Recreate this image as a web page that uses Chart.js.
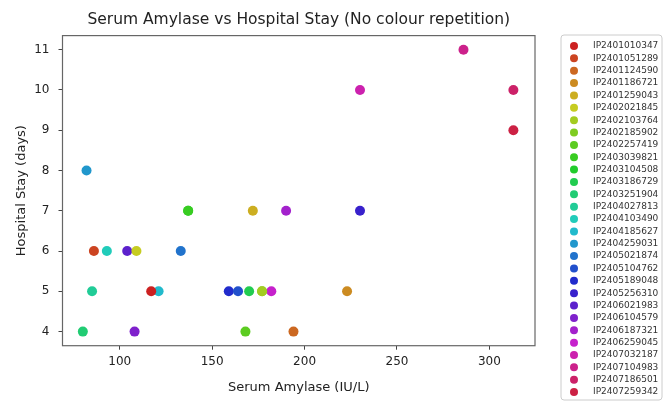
<!DOCTYPE html>
<html>
<head>
    <title>Serum Amylase vs Hospital Stay</title>
    <script src="https://cdn.jsdelivr.net/npm/chart.js"></script>
    <style>
        body { margin: 0; background: #fff; }
    </style>
</head>
<body>
    <canvas id="myChart" width="666" height="403"></canvas>
    <script>
        // one point per patient
        const patientIds = [
            'IP2401010347', 'IP2401051289', 'IP2401124590', 'IP2401186721', 'IP2401259043',
            'IP2402021845', 'IP2402103764', 'IP2402185902', 'IP2402257419', 'IP2403039821',
            'IP2403104508', 'IP2403186729', 'IP2403251904', 'IP2404027813', 'IP2404103490',
            'IP2404185627', 'IP2404259031', 'IP2405021874', 'IP2405104762', 'IP2405189048',
            'IP2405256310', 'IP2406021983', 'IP2406104579', 'IP2406187321', 'IP2406259045',
            'IP2407032187', 'IP2407104983', 'IP2407186501', 'IP2407259342'
        ];
        const amylase = [117, 86, 194, 223, 172, 109, 177, 177, 168, 137,
                         137, 170, 80, 85, 93, 121, 82, 133, 164, 159,
                         230, 104, 108, 190, 182, 230, 286, 313, 313];
        const stayDays = [5, 6, 4, 5, 7, 6, 5, 5, 4, 7,
                          7, 5, 4, 5, 6, 5, 8, 6, 5, 5,
                          7, 6, 4, 7, 5, 10, 11, 10, 9];
        const xTicks = [100, 150, 200, 250, 300];
        const yTicks = [4, 5, 6, 7, 8, 9, 10, 11];

        const font = "'DejaVu Sans', sans-serif";

        function hsvColor(h, s, v) {
            const f = n => {
                const k = (n + h / 60) % 6;
                return Math.round(255 * (v - v * s * Math.max(0, Math.min(k, 4 - k, 1))));
            };
            return 'rgb(' + f(5) + ',' + f(3) + ',' + f(1) + ')';
        }

        const colors = patientIds.map((id, i) => hsvColor(i * 360 / patientIds.length, 0.84, 0.8));

        const datasets = patientIds.map((id, i) => ({
            label: id,
            data: [{ x: amylase[i], y: stayDays[i] }],
            backgroundColor: colors[i],
            borderColor: colors[i],
            borderWidth: 0,
            pointRadius: 5,
            pointHoverRadius: 5
        }));

        // frame round the plot + the side legend
        const framePlugin = {
            id: 'frame',
            afterDraw(chart) {
                const ctx = chart.ctx;
                const a = chart.chartArea;
                ctx.save();
                ctx.strokeStyle = '#666';
                ctx.lineWidth = 1.2;
                ctx.strokeRect(a.left, a.top, a.right - a.left, a.bottom - a.top);

                const sets = chart.data.datasets;
                const top = 35, left = 561, step = 12.36;
                ctx.strokeStyle = '#ccc';
                ctx.lineWidth = 1;
                ctx.beginPath();
                ctx.roundRect(left, top, 101, 365, 3);
                ctx.stroke();
                ctx.font = '9px ' + font;
                ctx.textBaseline = 'middle';
                sets.forEach((ds, i) => {
                    const y = 46 + i * step;
                    ctx.beginPath();
                    ctx.arc(574, y, 4, 0, Math.PI * 2);
                    ctx.fillStyle = ds.backgroundColor;
                    ctx.fill();
                    ctx.fillStyle = '#333';
                    ctx.fillText(ds.label, 593, y);
                });
                ctx.restore();
            }
        };

        const ctx = document.getElementById('myChart').getContext('2d');
        const myChart = new Chart(ctx, {
            type: 'scatter',
            data: { datasets: datasets },
            plugins: [framePlugin],
            options: {
                responsive: false,
                animation: false,
                layout: { padding: { top: 0, right: 131, left: 0, bottom: 0 } },
                plugins: {
                    legend: { display: false },
                    tooltip: { enabled: false },
                    title: {
                        display: true,
                        fullSize: false,
                        text: 'Serum Amylase vs Hospital Stay (No colour repetition)',
                        color: '#222',
                        font: { family: font, size: 15.5, weight: 'normal' },
                        padding: { top: 10.5, bottom: 6.5 }
                    }
                },
                scales: {
                    x: {
                        type: 'linear',
                        min: 69,
                        max: 324.7,
                        afterFit(scale) { scale.height = 57.3; },
                        afterBuildTicks(scale) { scale.ticks = xTicks.map(v => ({ value: v })); },
                        grid: { drawOnChartArea: false, drawTicks: true, tickLength: 4, color: '#444' },
                        border: { display: false },
                        ticks: { color: '#222', padding: 5, font: { family: font, size: 12 } },
                        title: {
                            display: true,
                            text: 'Serum Amylase (IU/L)',
                            color: '#222',
                            font: { family: font, size: 13 },
                            padding: { top: 0, bottom: 8 }
                        }
                    },
                    y: {
                        type: 'linear',
                        min: 3.65,
                        max: 11.35,
                        afterFit(scale) { scale.width = 62.5; },
                        afterBuildTicks(scale) { scale.ticks = yTicks.map(v => ({ value: v })); },
                        grid: { drawOnChartArea: false, drawTicks: true, tickLength: 4, color: '#444' },
                        border: { display: false },
                        ticks: { color: '#222', padding: 9, font: { family: font, size: 12 } },
                        title: {
                            display: true,
                            text: 'Hospital Stay (days)',
                            color: '#222',
                            font: { family: font, size: 13 },
                            padding: { top: 14, bottom: 0 }
                        }
                    }
                }
            }
        });
    </script>
</body>
</html>
